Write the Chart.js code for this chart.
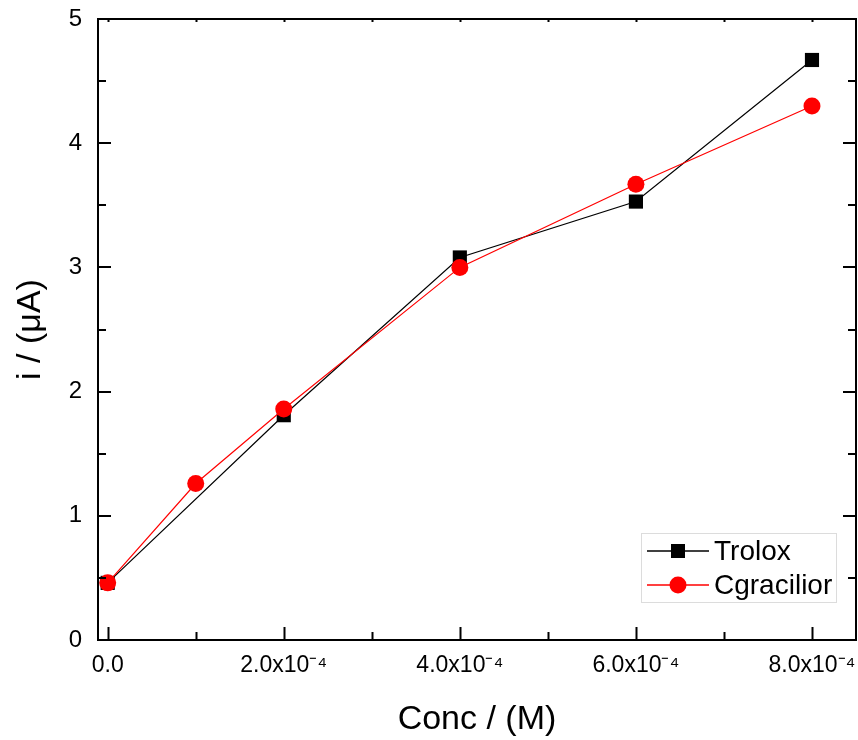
<!DOCTYPE html>
<html>
<head>
<meta charset="utf-8">
<script src="https://cdn.jsdelivr.net/npm/chart.js@4.4.1/dist/chart.umd.min.js"></script>
<style>
  html, body { margin: 0; padding: 0; background: #fff; }
  #wrap { width: 858px; height: 740px; }
</style>
</head>
<body>
<div id="wrap"><canvas id="c" width="858" height="740"></canvas></div>
<script>
// Concentrations (M)
const troloxConc = [0, 2e-4, 4e-4, 6e-4, 8e-4];
const cgraciliorConc = [0, 1e-4, 2e-4, 4e-4, 6e-4, 8e-4];
// Peak current (µA)
const troloxCurrent = [0.46, 1.81, 3.08, 3.53, 4.67];
const cgraciliorCurrent = [0.46, 1.26, 1.86, 3.00, 3.67, 4.30];

const seriesNames = ['Trolox', 'Cgracilior'];
const xTitle = 'Conc / (M)';
const yTitle = 'i / (\u03bcA)';

const xMajor = [0, 2e-4, 4e-4, 6e-4, 8e-4];
const xMinor = [1e-4, 3e-4, 5e-4, 7e-4];
const yMajor = [0, 1, 2, 3, 4, 5];
const yMinor = [0.5, 1.5, 2.5, 3.5, 4.5];

const FONT = 'Arial, "Liberation Sans", Helvetica, sans-serif';

function toPoints(xs, ys) {
  return xs.map((x, i) => ({ x: x, y: ys[i] }));
}

function xLabel(v) {
  if (Math.abs(v) < 1e-9) return '0.0';
  return (v / 1e-4).toFixed(1) + 'x10\u207b\u2074';
}

// Box frame with inward major/minor tick marks on every side
const framePlugin = {
  id: 'frame',
  afterDatasetsDraw(chart) {
    const { ctx, chartArea: a, scales } = chart;
    const xs = scales.x, ys = scales.y;
    ctx.save();
    ctx.strokeStyle = '#000';
    ctx.lineWidth = 2;
    ctx.lineCap = 'butt';
    ctx.beginPath();
    ctx.rect(a.left, a.top, a.right - a.left, a.bottom - a.top);
    ctx.stroke();
    ctx.beginPath();
    const tickX = (vals, len, topLen) => vals.forEach(v => {
      const p = Math.round(xs.getPixelForValue(v)) + 0.5;
      ctx.moveTo(p, a.bottom); ctx.lineTo(p, a.bottom - len);
      ctx.moveTo(p, a.top); ctx.lineTo(p, a.top + topLen);
    });
    const tickY = (vals, len) => vals.forEach(v => {
      const p = Math.round(ys.getPixelForValue(v));
      ctx.moveTo(a.left, p); ctx.lineTo(a.left + len, p);
      ctx.moveTo(a.right, p); ctx.lineTo(a.right - len, p);
    });
    tickX(xMajor, 13, 3);
    tickX(xMinor, 8, 3);
    tickY(yMajor, 13);
    tickY(yMinor, 8);
    ctx.stroke();
    ctx.restore();
  }
};

// Legend box: line sample with marker, then series name
const legendPlugin = {
  id: 'boxLegend',
  afterDraw(chart) {
    const { ctx } = chart;
    const bx = 641, by = 533, bw = 195, bh = 69;
    ctx.save();
    ctx.fillStyle = '#fff';
    ctx.fillRect(bx, by, bw, bh);
    ctx.strokeStyle = '#dcdcdc';
    ctx.lineWidth = 1;
    ctx.strokeRect(bx + 0.5, by + 0.5, bw, bh);
    const rows = [by + 18, by + 52];
    chart.data.datasets.forEach((ds, i) => {
      const y = rows[i];
      ctx.strokeStyle = ds.borderColor;
      ctx.lineWidth = 1.3;
      ctx.beginPath();
      ctx.moveTo(bx + 6, y);
      ctx.lineTo(bx + 68, y);
      ctx.stroke();
      ctx.fillStyle = ds.pointBackgroundColor;
      if (ds.pointStyle === 'rect') {
        ctx.fillRect(bx + 37 - 7, y - 7, 14, 14);
      } else {
        ctx.beginPath();
        ctx.arc(bx + 37, y, 8.5, 0, Math.PI * 2);
        ctx.fill();
      }
      ctx.fillStyle = '#000';
      ctx.font = '28px ' + FONT;
      ctx.textBaseline = 'middle';
      ctx.textAlign = 'left';
      ctx.fillText(ds.label, bx + 73, y + 1);
    });
    ctx.restore();
  }
};

new Chart(document.getElementById('c'), {
  type: 'line',
  data: {
    datasets: [
      {
        label: seriesNames[0],
        data: toPoints(troloxConc, troloxCurrent),
        borderColor: '#000000',
        backgroundColor: '#000000',
        pointBackgroundColor: '#000000',
        pointBorderColor: '#000000',
        pointStyle: 'rect',
        pointRadius: 10,
        pointBorderWidth: 0,
        borderWidth: 1.2,
        tension: 0,
        order: 1
      },
      {
        label: seriesNames[1],
        data: toPoints(cgraciliorConc, cgraciliorCurrent),
        borderColor: '#ff0000',
        backgroundColor: '#ff0000',
        pointBackgroundColor: '#ff0000',
        pointBorderColor: '#ff0000',
        pointStyle: 'circle',
        pointRadius: 8.5,
        pointBorderWidth: 0,
        borderWidth: 1.2,
        tension: 0,
        order: 0
      }
    ]
  },
  options: {
    responsive: false,
    animation: false,
    layout: { autoPadding: false, padding: { top: 19, right: 2, left: 0, bottom: 0 } },
    plugins: {
      legend: { display: false },
      tooltip: { enabled: false }
    },
    scales: {
      x: {
        type: 'linear',
        min: -1.1e-5,
        max: 8.5e-4,
        border: { display: false },
        grid: { display: false, drawTicks: false },
        afterFit(s) {
          s.height = 100;
          s.paddingLeft = 0;
          s.paddingRight = 0;
        },
        afterBuildTicks(s) { s.ticks = xMajor.map(v => ({ value: v })); },
        ticks: {
          includeBounds: false,
          autoSkip: false,
          maxRotation: 0,
          padding: 12,
          color: '#000',
          font: { family: FONT, size: 23 },
          callback: (v) => xLabel(v)
        },
        title: {
          display: true,
          text: xTitle,
          color: '#000',
          font: { family: FONT, size: 34 },
          padding: { top: 4, bottom: 0 }
        }
      },
      y: {
        type: 'linear',
        min: 0,
        max: 5,
        border: { display: false },
        grid: { display: false, drawTicks: false },
        afterFit(s) {
          s.width = 98;
          s.paddingTop = 0;
          s.paddingBottom = 0;
        },
        afterBuildTicks(s) { s.ticks = yMajor.map(v => ({ value: v })); },
        ticks: {
          padding: 16,
          color: '#000',
          font: { family: FONT, size: 24 },
          callback: (v) => String(v)
        },
        title: {
          display: true,
          text: yTitle,
          color: '#000',
          font: { family: FONT, size: 34 },
          padding: { top: 10, bottom: 0 }
        }
      }
    }
  },
  plugins: [framePlugin, legendPlugin]
});
</script>
</body>
</html>
